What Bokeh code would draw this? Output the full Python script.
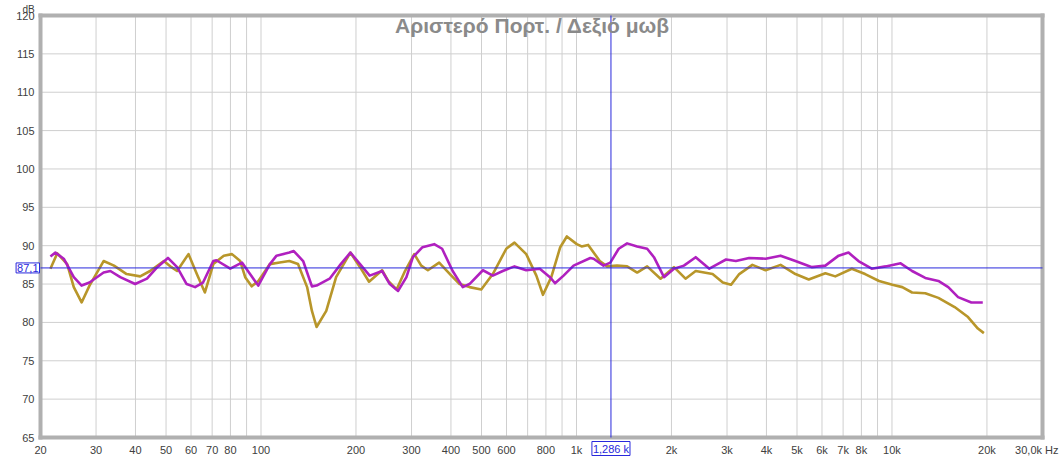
import math
from bokeh.plotting import figure
from bokeh.models import FixedTicker, Label, Range1d
from bokeh.embed import file_html
from bokeh.resources import INLINE

# Left channel (gold)
freq_left = [21.5, 22.6, 24.3, 25.5, 27.0, 28.6, 31.7, 34.2, 37.5, 41.4, 44.5, 49.2, 52.0, 54.2,
             58.9, 62.6, 66.4, 70.6, 76.2, 80.9, 85.9, 89.1, 93.4, 98.1, 106.7, 114.6, 123, 131,
             140, 145, 150, 161, 173, 192, 206, 220, 242, 253, 269, 286, 306, 322, 338, 367, 397,
             426, 458, 499, 543, 599, 636, 693, 746, 783, 832, 888, 932, 1002, 1038, 1089, 1185,
             1250, 1344, 1447, 1557, 1675, 1847, 2037, 2216, 2387, 2700, 2910, 3090, 3280, 3610,
             3977, 4435, 4943, 5447, 6150, 6613, 7460, 8220, 9100, 10030, 10780, 11580, 12750,
             14030, 15800, 17420, 18720, 19560]
db_left = [87.0, 89.0, 87.6, 84.6, 82.6, 84.8, 88.0, 87.4, 86.3, 86.0, 86.7, 88.0, 87.2, 86.7,
           88.9, 86.3, 83.9, 87.6, 88.7, 88.9, 88.0, 85.9, 84.7, 85.4, 87.6, 87.8, 88.0, 87.6,
           84.6, 81.5, 79.4, 81.5, 85.9, 89.1, 87.2, 85.3, 86.8, 85.4, 84.3, 86.7, 88.9, 87.4,
           86.8, 87.8, 86.3, 85.0, 84.6, 84.3, 86.3, 89.6, 90.4, 88.9, 86.1, 83.6, 85.9, 89.8,
           91.2, 90.2, 89.9, 90.1, 88.0, 87.3, 87.4, 87.3, 86.5, 87.3, 85.7, 87.2, 85.7, 86.7,
           86.3, 85.2, 84.9, 86.3, 87.5, 86.8, 87.5, 86.3, 85.6, 86.4, 86.0, 87.0, 86.3, 85.4,
           84.9, 84.6, 83.9, 83.8, 83.2, 82.0, 80.7, 79.2, 78.6]

# Right channel (purple)
freq_right = [21.5, 22.3, 23.7, 25.5, 27.0, 28.6, 31.7, 33.3, 35.8, 39.9, 43.5, 46.9, 50.7, 54.2,
              58.1, 61.8, 65.5, 70.6, 72.2, 79.9, 87.0, 92.3, 98.0, 106.7, 112, 123, 127, 136,
              145, 150, 165, 179, 192, 206, 221, 242, 256, 272, 289, 303, 325, 354, 375, 405,
              436, 458, 505, 543, 584, 636, 693, 765, 824, 855, 910, 979, 1106, 1133, 1218, 1280,
              1361, 1447, 1557, 1675, 1760, 1894, 2037, 2190, 2387, 2637, 2800, 2979, 3200, 3525,
              3977, 4435, 4943, 5580, 6150, 6775, 7281, 7830, 8625, 9555, 10650, 11580, 12750,
              14030, 15080, 16200, 17850, 19400]
db_right = [88.6, 89.1, 88.3, 85.9, 84.8, 85.2, 86.5, 86.7, 85.9, 85.0, 85.7, 87.2, 88.4, 87.2,
            85.0, 84.6, 85.2, 88.0, 88.1, 87.0, 87.8, 86.3, 84.8, 87.6, 88.7, 89.1, 89.3, 88.0,
            84.7, 84.8, 85.7, 87.6, 89.1, 87.6, 86.1, 86.7, 85.0, 84.1, 85.9, 88.5, 89.8, 90.2,
            89.6, 86.7, 84.6, 85.0, 86.8, 86.1, 86.7, 87.3, 86.8, 87.0, 85.9, 85.1, 86.1, 87.4,
            88.4, 88.3, 87.4, 87.8, 89.6, 90.3, 89.9, 89.6, 88.5, 85.9, 87.0, 87.4, 88.5, 87.0,
            87.6, 88.2, 88.0, 88.4, 88.3, 88.7, 88.0, 87.2, 87.4, 88.7, 89.1, 88.0, 87.0, 87.3,
            87.7, 86.7, 85.8, 85.4, 84.6, 83.3, 82.6, 82.6]

x_lo, x_hi = 20, 30000
y_lo, y_hi = 65, 120
x_ticks = [20, 30, 40, 50, 60, 70, 80, 90, 100, 200, 300, 400, 500, 600, 700, 800, 900,
           1000, 2000, 3000, 4000, 5000, 6000, 7000, 8000, 9000, 10000, 20000]
x_tick_labels = ["20", "30", "40", "50", "60", "70", "80", "", "100", "200", "300", "400", "500",
                 "600", "", "800", "", "1k", "2k", "3k", "4k", "5k", "6k", "7k", "8k", "", "10k", "20k"]
y_ticks = [65, 70, 75, 80, 85, 90, 95, 100, 105, 110, 115, 120]
y_tick_labels = [str(v) for v in y_ticks]

cursor_freq = 1286
cursor_db = 87.1
cursor_freq_text = "1,286 k"
cursor_db_text = "87,1"
title_text = "Αριστερό Πορτ. / Δεξιό μωβ"
x_end_text = "30,0k Hz"
y_unit_text = "dB"

GOLD = "#b8962a"
PURPLE = "#b020bf"
BLUE = "#2828dc"
GRID = "#cfcfcf"
BORDER = "#b0b0b0"
TXT = "#404040"
FONT = "Liberation Sans"

# canvas layout (pixels) of the plotting box inside the figure
W, H = 1060, 458
BOX_L, BOX_R, BOX_T, BOX_B = 40, 1042, 15, 437
k = (math.log10(x_hi) - math.log10(x_lo)) / (BOX_R - BOX_L)
x_start = 10 ** (math.log10(x_lo) - BOX_L * k)
x_end = 10 ** (math.log10(x_hi) + (W - BOX_R) * k)
ppd = (BOX_B - BOX_T) / (y_hi - y_lo)
y_end = y_hi + BOX_T / ppd
y_start = y_lo - (H - BOX_B) / ppd

p = figure(width=W, height=H, x_axis_type="log",
           x_range=Range1d(x_start, x_end), y_range=Range1d(y_start, y_end),
           output_backend="svg", toolbar_location=None, min_border=0)
p.background_fill_color = "white"
p.border_fill_color = "white"
p.outline_line_color = None
p.xgrid.visible = False
p.ygrid.visible = False

for ax in (p.xaxis[0], p.yaxis[0]):
    ax.axis_line_color = None
    ax.major_tick_line_color = None
    ax.minor_tick_line_color = None
    ax.major_tick_out = 0
    ax.major_tick_in = 0
    ax.minor_tick_out = 0
    ax.minor_tick_in = 0
    ax.major_label_text_font = FONT
    ax.major_label_text_font_size = "11px"
    ax.major_label_text_color = TXT

p.xaxis.fixed_location = y_lo
p.xaxis.bounds = (x_lo, x_hi)
p.xaxis.ticker = FixedTicker(ticks=x_ticks, minor_ticks=[])
p.xaxis.major_label_overrides = {t: l for t, l in zip(x_ticks, x_tick_labels)}
p.xaxis.major_label_standoff = 6
p.yaxis.fixed_location = x_lo
p.yaxis.bounds = (y_lo, y_hi)
p.yaxis.ticker = FixedTicker(ticks=y_ticks, minor_ticks=[])
p.yaxis.major_label_overrides = {t: l for t, l in zip(y_ticks, y_tick_labels)}
p.yaxis.major_label_standoff = 6

# grid lines limited to the plotting box
p.segment(x0=x_ticks, y0=[y_lo] * len(x_ticks), x1=x_ticks, y1=[y_hi] * len(x_ticks),
          line_color=GRID, line_width=1)
p.segment(x0=[x_lo] * len(y_ticks), y0=y_ticks, x1=[x_hi] * len(y_ticks), y1=y_ticks,
          line_color=GRID, line_width=1)

# plotting box border (four edges)
p.segment(x0=[x_lo, x_lo, x_lo, x_hi], y0=[y_lo, y_hi, y_lo, y_lo],
          x1=[x_hi, x_hi, x_lo, x_hi], y1=[y_lo, y_hi, y_hi, y_hi],
          line_color=BORDER, line_width=4, line_cap="square")

p.line(freq_left, db_left, line_color=GOLD, line_width=2.6, line_join="round")
p.line(freq_right, db_right, line_color=PURPLE, line_width=2.6, line_join="round")

# cursor
p.segment(x0=[cursor_freq], y0=[y_lo], x1=[cursor_freq], y1=[y_hi], line_color=BLUE, line_width=1)
p.segment(x0=[x_lo], y0=[cursor_db], x1=[x_hi], y1=[cursor_db], line_color=BLUE, line_width=1)

p.add_layout(Label(x=532, y=y_hi - 10 / ppd, x_units="screen", y_units="data", text=title_text,
                   text_font=FONT, text_font_style="bold", text_font_size="21px",
                   text_color="#8a8a8a", text_align="center", text_baseline="middle"))

p.add_layout(Label(x=x_lo, x_offset=-12, y=y_hi + 6.5 / ppd, text=y_unit_text,
                   text_font=FONT, text_font_size="10px", text_color=TXT,
                   text_align="center", text_baseline="alphabetic"))

p.add_layout(Label(x=x_hi, x_offset=16, y=y_lo - 6 / ppd, text=x_end_text,
                   text_font=FONT, text_font_size="11px", text_color=TXT,
                   text_align="right", text_baseline="top"))

p.add_layout(Label(x=x_lo, x_offset=-1, y=cursor_db, text=cursor_db_text,
                   text_font=FONT, text_font_size="11px", text_color=BLUE,
                   text_align="right", text_baseline="middle",
                   border_line_color=BLUE, border_line_width=1,
                   background_fill_color="white", padding=1))

p.add_layout(Label(x=cursor_freq, y=y_lo - 4 / ppd, text=cursor_freq_text,
                   text_font=FONT, text_font_size="11px", text_color=BLUE,
                   text_align="center", text_baseline="top",
                   border_line_color=BLUE, border_line_width=1,
                   background_fill_color="white", padding=1))

open("out.html", "w").write(file_html(p, INLINE))
